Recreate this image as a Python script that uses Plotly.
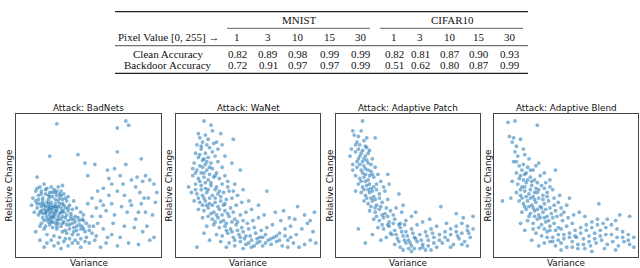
import plotly.graph_objects as go

# ---------------- table data ----------------
datasets = ["MNIST", "CIFAR10"]
pixel_values = [1, 3, 10, 15, 30]
clean_mnist = [0.82, 0.89, 0.98, 0.99, 0.99]
clean_cifar = [0.82, 0.81, 0.87, 0.90, 0.93]
backdoor_mnist = [0.72, 0.91, 0.97, 0.97, 0.99]
backdoor_cifar = [0.51, 0.62, 0.80, 0.87, 0.99]
row_labels = ["Clean Accuracy", "Backdoor Accuracy"]
header_label = "Pixel Value [0, 255] \u2192"

# ---------------- scatter data (normalised variance, relative change, %) ----------------
titles = ["Attack: BadNets", "Attack: WaNet", "Attack: Adaptive Patch", "Attack: Adaptive Blend"]

badnets = [(27,93),(76,95),(78,92),(70,90),(70,73),(22,70),(42,71),(87,68),(13,55),(47,65),(54,64),(76,64),(63,60),(68,61),(49,56),(64,54),(72,56),(80,53),(84,55),(88,52),(90,56),(93,53),(96,50),(83,48),(66,50),(60,47),(56,45),(70,45),(75,42),(86,44),(92,40),(97,37),(87,36),(80,35),(73,34),(66,36),(58,38),(52,40),(49,36),(55,33),(62,31),(68,28),(77,30),(83,25),(90,30),(95,28),(82,19),(88,16),(93,10),(78,8),(72,12),(66,14),(60,18),(56,22),(52,27),(50,20),(46,24),(44,18),(48,12),(54,10),(62,8),(58,5),(70,6),(85,7),(96,12),(40,10),(35,6),(30,4),(25,6),(20,8),(15,10),(12,16),(18,5),(38,14),(98,44),
(12,45),(15,48),(18,50),(20,47),(22,44),(25,46),(28,48),(30,45),(14,42),(17,40),(19,43),(21,39),(24,41),(27,42),(29,40),(32,43),(34,38),(12,38),(15,36),(18,35),(20,37),(23,35),(26,36),(28,34),(31,36),(33,33),(36,35),(38,32),(13,33),(16,31),(19,30),(21,32),(24,30),(26,31),(29,29),(31,31),(34,28),(37,29),(40,27),(14,28),(17,26),(20,27),(22,25),(25,26),(27,24),(30,25),(32,23),(35,24),(38,22),(41,20),(43,24),(16,22),(19,20),(22,21),(24,19),(27,18),(30,20),(33,17),(36,18),(39,16),(42,14),(45,20),(47,16),(20,14),(25,13),(29,12),(33,11),(23,37),(26,39),(21,34),(17,38),(24,33),(27,31),(19,29),(22,28),(25,28),(28,27),(18,24),(23,23),(28,22),(31,27),(35,31),(10,40),(9,35),(11,30),(16,45),(23,48),(31,49),(35,41),(39,38),(44,30),(46,28),(41,33),(26,44),(29,43),(14,39),(21,42),(20,31),(30,33),(32,30),(23,26),(26,22),(34,21),(37,25),(40,23),(44,11),(50,8),(38,8),(28,8),(44,5),(52,15),
(13,47),(16,43),(19,46),(22,41),(24,44),(27,45),(30,42),(33,40),(13,36),(16,34),(18,32),(21,36),(23,32),(25,34),(27,33),(30,30),(32,35),(35,33),(37,27),(15,30),(17,29),(20,25),(22,30),(24,27),(26,29),(28,25),(31,22),(33,26),(36,21),(39,25),(41,17),(43,21),(46,18),(48,22),(50,17),(39,19),(34,15),(31,16),(27,20),(24,23),(21,23),(18,18),(15,20),(29,36),(26,34),(22,33),(19,34),(17,36),(28,38),(31,39),(42,26),(45,25),(53,20),(55,13),(36,11),(32,9),(23,10),(42,8),(47,9),(58,27),(60,35),(64,42),(74,50),(79,38),(85,30),(89,40),(91,20),(67,22),(75,20),(63,12)]

wanet = [(18,95),(23,92),(14,86),(30,86),(39,82),(15,83),(17,80),(13,78),(20,78),(16,75),(22,76),(12,72),(19,72),(24,73),(14,69),(17,67),(21,69),(26,70),(11,65),(15,63),(19,64),(23,65),(28,66),(13,60),(16,58),(20,60),(24,61),(27,58),(31,62),(10,56),(14,54),(18,55),(21,53),(25,55),(29,54),(33,56),(7,48),(12,50),(16,49),(19,47),(23,49),(27,48),(31,50),(35,52),(9,44),(13,43),(17,42),(20,44),(24,42),(28,43),(32,44),(36,45),(11,38),(15,37),(19,38),(22,36),(26,37),(30,38),(34,39),(38,40),(42,42),(14,32),(18,31),(21,33),(25,30),(29,32),(33,31),(37,33),(41,35),(45,37),(17,26),(21,27),(24,25),(28,26),(32,24),(36,27),(40,25),(44,28),(48,30),(52,32),(20,20),(25,21),(29,19),(33,20),(37,18),(41,21),(45,19),(49,22),(53,24),(57,26),(61,28),(27,14),(31,13),(35,15),(39,12),(43,14),(47,11),(51,13),(55,15),(59,17),(63,19),(67,21),(36,8),(40,6),(44,9),(48,7),(52,5),(56,8),(60,6),(64,10),(68,12),(72,15),(76,18),(80,20),(58,12),(62,14),(66,7),(70,9),(74,6),(78,10),(82,8),(86,5),(90,7),(94,10),(98,8),(84,14),(88,18),(92,22),(96,16),(85,34),(97,30),(63,45),(79,26),(73,24),(69,30),(57,35),(50,38),(13,5),(22,10),(30,9),(18,15),(34,5),(78,5),(83,25),(90,28),(94,24),(75,31),(46,46),(40,50),(44,60),(38,65),(28,75),(33,70),(10,61),(27,80),(31,78),
(15,71),(18,68),(20,66),(22,62),(17,62),(12,58),(18,58),(22,57),(26,56),(15,52),(19,51),(23,51),(26,46),(21,46),(16,46),(14,40),(18,40),(22,40),(26,40),(30,41),(17,35),(20,35),(24,35),(28,34),(32,35),(23,29),(27,28),(31,28),(35,29),(39,30),(26,23),(30,23),(34,22),(38,23),(42,23),(46,24),(34,17),(38,16),(42,17),(46,16),(50,18),(54,19),(40,10),(44,12),(48,13),(52,10),(56,11),(60,12),(46,4),(50,8),(54,6),(58,9),(62,8),(66,11),(70,13),(24,88),(19,85),(21,82),(25,79),(16,77),(35,48),(39,45),(33,36),(29,45),(12,46),(76,13),(72,10),(80,12)]

adaptive_patch = [(17,95),(10,88),(26,83),(11,85),(13,80),(15,78),(18,81),(20,76),(9,75),(12,73),(16,72),(19,70),(22,74),(14,68),(17,66),(21,65),(24,68),(10,64),(13,62),(16,60),(19,61),(23,59),(26,62),(12,56),(15,54),(18,55),(21,53),(25,55),(28,57),(14,50),(17,48),(20,49),(23,47),(27,50),(30,52),(16,44),(19,42),(22,44),(25,41),(29,43),(33,45),(36,50),(18,38),(21,36),(24,38),(27,35),(31,37),(35,39),(43,43),(22,31),(26,30),(29,32),(33,29),(37,31),(41,33),(45,30),(25,25),(29,24),(32,26),(36,23),(40,25),(44,22),(48,24),(52,27),(28,19),(32,18),(36,20),(40,17),(44,19),(48,16),(52,18),(56,21),(60,23),(34,12),(38,14),(42,11),(46,13),(50,10),(54,12),(58,14),(62,16),(66,18),(70,20),(40,7),(44,5),(48,8),(52,6),(56,9),(60,7),(64,10),(68,12),(72,14),(76,16),(80,18),(84,20),(88,22),(92,20),(96,18),(74,8),(78,10),(82,7),(86,11),(90,9),(94,12),(58,4),(62,3),(73,34),(84,29),(96,27),(19,8),(14,18),(30,10),(24,14),(12,45),(10,60),(8,70),(35,57),(32,48),(46,35),(55,30),(65,25),(77,22),(89,26),(93,15),(85,13),(70,5),(66,3),(52,2),
(12,78),(14,75),(17,74),(19,77),(21,72),(15,70),(18,68),(20,67),(23,64),(13,66),(15,64),(18,63),(21,60),(24,57),(17,58),(19,57),(22,56),(16,52),(19,52),(22,50),(25,48),(18,46),(21,46),(24,45),(27,46),(20,40),(23,40),(26,39),(29,40),(23,34),(26,33),(30,34),(34,33),(27,27),(31,28),(35,27),(39,28),(31,21),(35,21),(39,22),(43,21),(47,21),(37,15),(41,14),(45,16),(49,13),(53,15),(43,9),(47,10),(51,8),(55,11),(59,10),(63,13),(67,15),(46,3),(50,4),(54,4),(60,5),(64,6),(68,8),(72,10),(76,12),(80,14),(84,16),(88,15),(92,17),(80,5),(88,7),(92,6),(14,84),(16,88),(20,83)]

adaptive_blend = [(8,94),(13,95),(29,92),(9,84),(12,83),(17,82),(11,80),(14,77),(13,73),(19,75),(15,70),(20,71),(23,68),(30,65),(12,66),(16,63),(19,64),(22,62),(26,60),(28,63),(14,58),(17,56),(20,57),(24,55),(27,53),(31,56),(34,58),(11,52),(15,50),(18,48),(21,51),(25,49),(28,47),(32,49),(35,51),(38,53),(14,44),(17,42),(20,45),(23,43),(26,41),(29,44),(33,42),(36,44),(40,46),(10,40),(16,38),(19,36),(22,38),(25,35),(28,37),(31,34),(34,36),(37,38),(41,40),(45,42),(4,38),(18,30),(21,32),(24,29),(27,31),(30,28),(33,30),(36,27),(39,29),(42,31),(46,33),(50,35),(22,24),(26,22),(29,25),(32,21),(35,23),(38,20),(41,22),(44,19),(47,24),(51,26),(55,28),(59,30),(28,15),(32,13),(36,16),(40,12),(44,14),(48,11),(52,15),(56,17),(60,19),(64,21),(68,23),(72,25),(34,8),(38,9),(42,6),(46,8),(50,5),(54,9),(58,7),(62,11),(66,13),(70,15),(74,17),(78,19),(82,21),(86,18),(90,16),(94,14),(98,12),(63,4),(67,6),(71,8),(75,10),(79,7),(83,9),(87,6),(91,9),(95,7),(73,36),(95,27),(79,25),(85,24),(88,28),(20,17),(25,10),(30,6),(17,22),(42,60),(38,48),(52,40),(48,30),(63,27),(57,12),(46,3),(68,2),
(14,66),(18,60),(21,58),(24,60),(16,54),(19,53),(22,53),(25,52),(29,51),(17,46),(20,48),(24,46),(27,44),(30,46),(34,47),(18,40),(21,41),(24,40),(27,39),(30,40),(33,39),(36,41),(20,34),(23,34),(26,33),(29,32),(32,33),(35,32),(38,33),(41,35),(44,37),(23,27),(27,27),(31,26),(34,26),(37,24),(40,26),(43,27),(46,28),(26,18),(30,19),(34,18),(38,17),(42,17),(46,18),(50,20),(54,22),(36,12),(40,9),(44,10),(48,14),(52,12),(56,13),(60,15),(64,17),(68,19),(72,21),(76,22),(54,5),(58,4),(62,7),(66,9),(70,11),(74,13),(78,14),(82,14),(86,12),(90,12),(94,10),(98,5),(85,3),(77,4)]

series = [badnets, wanet, adaptive_patch, adaptive_blend]

# ---------------- layout helpers ----------------
W, H = 640, 268
def px(x):
    return x / W
def py(y):
    return 1 - y / H

panel_x = [(16, 161), (176, 320), (336, 480), (494, 638)]
panel_y = (114, 257)
ylabel_x = [8, 168, 329, 487]

fig = go.Figure()
layout = dict(
    width=W, height=H,
    margin=dict(l=0, r=0, t=0, b=0),
    paper_bgcolor="white", plot_bgcolor="white",
    showlegend=False,
)
annotations = []
shapes = []
sans = dict(family="DejaVu Sans", size=8.8, color="#111")

for i, (pts, title) in enumerate(zip(series, titles)):
    suffix = "" if i == 0 else str(i + 1)
    xs = [p[0] for p in pts]
    ys = [p[1] for p in pts]
    fig.add_trace(go.Scatter(
        x=xs, y=ys, mode="markers",
        xaxis="x" + suffix, yaxis="y" + suffix,
        marker=dict(size=3.8, color="#1f77b4", opacity=0.55, line=dict(width=0)),
        hoverinfo="skip",
    ))
    x0, x1 = panel_x[i]
    ax = dict(domain=[px(x0), px(x1)], range=[-2, 101], showline=True, mirror=True,
              linecolor="#444", linewidth=1, showgrid=False, zeroline=False,
              showticklabels=False, ticks="", anchor="y" + suffix)
    ay = dict(domain=[py(panel_y[1]), py(panel_y[0])], range=[-2, 100], showline=True, mirror=True,
              linecolor="#444", linewidth=1, showgrid=False, zeroline=False,
              showticklabels=False, ticks="", anchor="x" + suffix)
    layout["xaxis" + suffix] = ax
    layout["yaxis" + suffix] = ay
    cx = (x0 + x1) / 2
    annotations.append(dict(text=title, x=px(cx), y=py(108), xref="paper", yref="paper",
                            showarrow=False, font=sans, xanchor="center", yanchor="middle"))
    annotations.append(dict(text="Variance", x=px(cx), y=py(263), xref="paper", yref="paper",
                            showarrow=False, font=sans, xanchor="center", yanchor="middle"))
    annotations.append(dict(text="Relative Change", x=px(ylabel_x[i]), y=py((panel_y[0] + panel_y[1]) / 2),
                            xref="paper", yref="paper", textangle=-90,
                            showarrow=False, font=sans, xanchor="center", yanchor="middle"))

# ---------------- table ----------------
serif = dict(family="Liberation Serif", size=11, color="#111")
def txt(s, x, y, anchor="center"):
    annotations.append(dict(text=s, x=px(x), y=py(y), xref="paper", yref="paper",
                            showarrow=False, font=serif, xanchor=anchor, yanchor="middle"))

def hline(x0, x1, y, w):
    shapes.append(dict(type="line", xref="paper", yref="paper",
                       x0=px(x0), x1=px(x1), y0=py(y), y1=py(y),
                       line=dict(color="#222", width=w)))

hline(115, 528, 11.7, 1.3)
hline(227, 370, 28.3, 0.7)
hline(380, 523, 28.3, 0.7)
hline(115, 528, 45.7, 0.8)
hline(115, 528, 73.3, 1.3)

txt(datasets[0], 299, 20)
txt(datasets[1], 452, 20)
txt(header_label, 169, 37.3)
txt(row_labels[0], 168, 54)
txt(row_labels[1], 168, 65)

col_mnist = [237, 268, 298, 330, 361]
col_cifar = [394, 420, 450, 479, 510]
for j, pv in enumerate(pixel_values):
    txt(str(pv), col_mnist[j], 37.3)
    txt(str(pv), col_cifar[j], 37.3)
    txt(f"{clean_mnist[j]:.2f}", col_mnist[j], 54)
    txt(f"{backdoor_mnist[j]:.2f}", col_mnist[j], 65)
    txt(f"{clean_cifar[j]:.2f}", col_cifar[j], 54)
    txt(f"{backdoor_cifar[j]:.2f}", col_cifar[j], 65)

layout["annotations"] = annotations
layout["shapes"] = shapes
fig.update_layout(**layout)
fig.write_html(
    "out.html",
    config={"displayModeBar": False, "staticPlot": True},
    post_script="document.body.style.margin='0';document.body.style.padding='0';",
)
